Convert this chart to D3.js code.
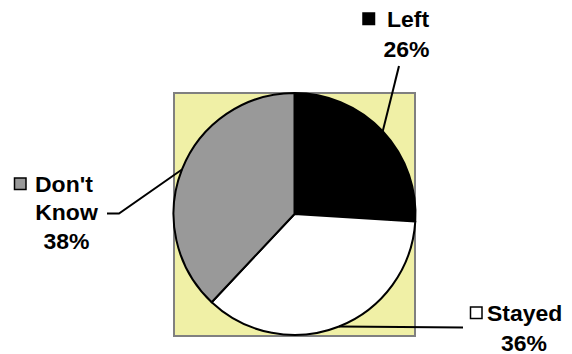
<!DOCTYPE html>
<html>
<head>
<meta charset="utf-8">
<script src="https://cdn.jsdelivr.net/npm/d3@7"></script>
<style>
  html, body { margin: 0; padding: 0; background: #fff; }
  svg { display: block; }
  text { font-family: "Liberation Sans", Arial, sans-serif; font-weight: bold; font-size: 21.5px; fill: #000; }
</style>
</head>
<body>
<svg id="chart" width="572" height="354"></svg>
<script>
// Survey outcome shares
const categories = ["Left", "Stayed", "Don't Know"];
const values = [26, 36, 38];
const sliceColors = ["#000000", "#ffffff", "#999999"];

const width = 572, height = 354;
const cx = 294.5, cy = 214, radius = 121;

// Label placement: leader-line end points, key square and text rows
// (a row with pct: true shows the slice's percentage)
const labelLayout = {
  "Left": {
    line: [[399, 66]], marker: [363, 13],
    rows: [{t: "Left", x: 387, y: 26.5}, {pct: true, x: 406.5, y: 56.5, anchor: "middle"}]
  },
  "Stayed": {
    line: [[463, 327.5]], marker: [470.5, 307],
    rows: [{t: "Stayed", x: 487, y: 320.5}, {pct: true, x: 524, y: 350.5, anchor: "middle"}]
  },
  "Don't Know": {
    line: [[119, 213.5], [107, 213.5]], marker: [14.5, 178],
    rows: [{t: "Don't", x: 35, y: 191.5}, {t: "Know", x: 66.5, y: 220, anchor: "middle"}, {pct: true, x: 66.5, y: 248.5, anchor: "middle"}]
  }
};

const svg = d3.select("#chart");

// Plot area
svg.append("rect")
  .attr("x", 174).attr("y", 93)
  .attr("width", 241).attr("height", 243)
  .attr("fill", "#f0f0a6")
  .attr("stroke", "#808080")
  .attr("stroke-width", 2);

const pie = d3.pie().sort(null).value(d => d.value);
const arcs = pie(categories.map((c, i) => ({ name: c, value: values[i], color: sliceColors[i] })));
const arc = d3.arc().innerRadius(0).outerRadius(radius);

const g = svg.append("g").attr("transform", `translate(${cx},${cy})`);
g.selectAll("path.slice")
  .data(arcs)
  .join("path")
  .attr("class", "slice")
  .attr("d", arc)
  .attr("fill", d => d.data.color)
  .attr("stroke", "#000")
  .attr("stroke-width", 2)
  .attr("stroke-linejoin", "round");

// Leader lines from each slice's outer midpoint
arcs.forEach(d => {
  const a = (d.startAngle + d.endAngle) / 2;
  const start = [cx + radius * Math.sin(a), cy - radius * Math.cos(a)];
  const pts = [start].concat(labelLayout[d.data.name].line);
  svg.append("path")
    .attr("d", d3.line()(pts))
    .attr("fill", "none")
    .attr("stroke", "#000")
    .attr("stroke-width", 2);
});

// Labels with legend keys
arcs.forEach(d => {
  const L = labelLayout[d.data.name];
  svg.append("rect")
    .attr("x", L.marker[0]).attr("y", L.marker[1])
    .attr("width", 11.5).attr("height", 11.5)
    .attr("fill", d.data.color)
    .attr("stroke", "#000")
    .attr("stroke-width", 1.5);
  L.rows.forEach(r => {
    svg.append("text")
      .attr("transform", `translate(${r.x},${r.y}) scale(1.07,1)`)
      .attr("text-anchor", r.anchor || "start")
      .text(r.pct ? d.data.value + "%" : r.t);
  });
});
</script>
</body>
</html>
